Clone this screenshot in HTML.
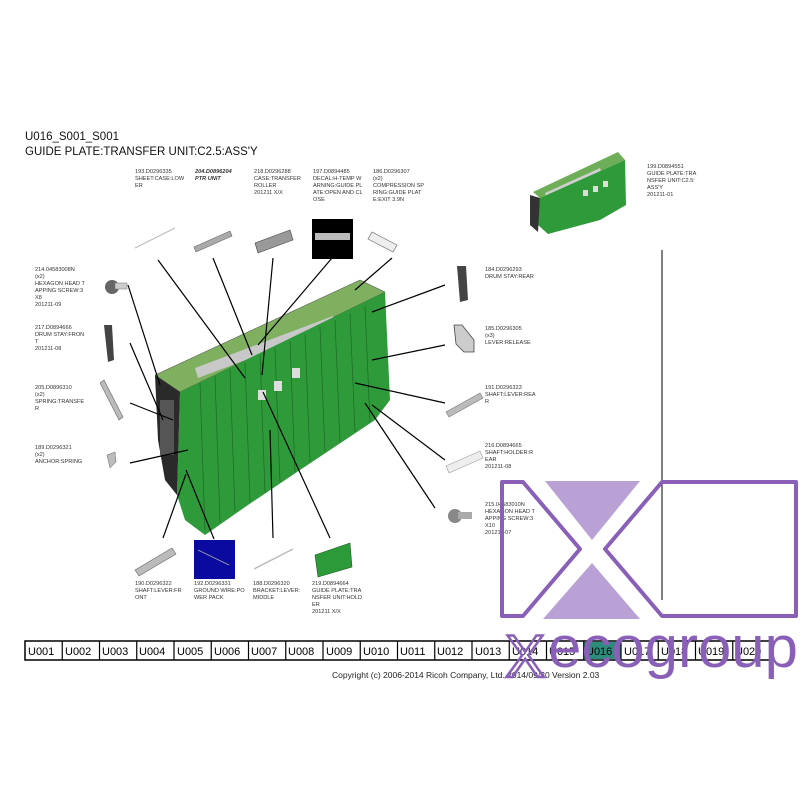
<!DOCTYPE html>
<html><head><meta charset="utf-8"><style>
html,body{margin:0;padding:0;background:#fff;}
svg{display:block;font-family:"Liberation Sans",sans-serif;}
.l{font-size:5.6px;fill:#333;}
</style></head><body>
<svg width="800" height="800" viewBox="0 0 800 800" xmlns="http://www.w3.org/2000/svg">
<rect width="800" height="800" fill="#fff"/>
<text x="25" y="140" font-size="11.5" fill="#111">U016_S001_S001</text>
<text x="25" y="155" font-size="11.5" fill="#111">GUIDE PLATE:TRANSFER UNIT:C2.5:ASS'Y</text>

<g class="l">
<text x="135" y="173">193.D0296335</text><text x="135" y="180">SHEET:CASE:LOW</text><text x="135" y="187">ER</text>
<text x="195" y="173" font-weight="bold" font-style="italic">204.D0896204</text><text x="195" y="180" font-weight="bold" font-style="italic">PTR UNIT</text>
<text x="254" y="173">218.D0296288</text><text x="254" y="180">CASE:TRANSFER</text><text x="254" y="187">ROLLER</text><text x="254" y="194">201211 X/X</text>
<text x="313" y="173">197.D0894485</text><text x="313" y="180">DECAL:H-TEMP W</text><text x="313" y="187">ARNING:GUIDE PL</text><text x="313" y="194">ATE:OPEN AND CL</text><text x="313" y="201">OSE</text>
<text x="373" y="173">186.D0296307</text><text x="373" y="180">(x2)</text><text x="373" y="187">COMPRESSION SP</text><text x="373" y="194">RING:GUIDE PLAT</text><text x="373" y="201">E:EXIT 3.9N</text>
<text x="647" y="168">199.D0894551</text><text x="647" y="175">GUIDE PLATE:TRA</text><text x="647" y="182">NSFER UNIT:C2.5:</text><text x="647" y="189">ASS'Y</text><text x="647" y="196">201211-01</text>
<text x="35" y="271">214.04583008N</text><text x="35" y="278">(x2)</text><text x="35" y="285">HEXAGON HEAD T</text><text x="35" y="292">APPING SCREW:3</text><text x="35" y="299">X8</text><text x="35" y="306">201211-09</text>
<text x="35" y="329">217.D0894666</text><text x="35" y="336">DRUM STAY:FRON</text><text x="35" y="343">T</text><text x="35" y="350">201211-08</text>
<text x="35" y="389">205.D0896310</text><text x="35" y="396">(x2)</text><text x="35" y="403">SPRING:TRANSFE</text><text x="35" y="410">R</text>
<text x="35" y="449">189.D0296321</text><text x="35" y="456">(x2)</text><text x="35" y="463">ANCHOR:SPRING</text>
<text x="485" y="271">184.D0296293</text><text x="485" y="278">DRUM STAY:REAR</text>
<text x="485" y="330">185.D0296305</text><text x="485" y="337">(x3)</text><text x="485" y="344">LEVER:RELEASE</text>
<text x="485" y="389">191.D0296323</text><text x="485" y="396">SHAFT:LEVER:REA</text><text x="485" y="403">R</text>
<text x="485" y="447">216.D0894665</text><text x="485" y="454">SHAFT:HOLDER:R</text><text x="485" y="461">EAR</text><text x="485" y="468">201211-08</text>
<text x="485" y="506">215.04583010N</text><text x="485" y="513">HEXAGON HEAD T</text><text x="485" y="520">APPING SCREW:3</text><text x="485" y="527">X10</text><text x="485" y="534">201211-07</text>
<text x="135" y="585">190.D0296322</text><text x="135" y="592">SHAFT:LEVER:FR</text><text x="135" y="599">ONT</text>
<text x="194" y="585">192.D0296331</text><text x="194" y="592">GROUND WIRE:PO</text><text x="194" y="599">WER PACK</text>
<text x="253" y="585">188.D0296320</text><text x="253" y="592">BRACKET:LEVER:</text><text x="253" y="599">MIDDLE</text>
<text x="312" y="585">219.D0894664</text><text x="312" y="592">GUIDE PLATE:TRA</text><text x="312" y="599">NSFER UNIT:HOLD</text><text x="312" y="606">ER</text><text x="312" y="613">201211 X/X</text>
</g>

<line x1="135" y1="248" x2="175" y2="228" stroke="#bbb" stroke-width="1"/>
<path d="M194 247 L230 231 L232 236 L196 252Z" fill="#aaa" stroke="#666" stroke-width="0.6"/>
<path d="M255 243 L290 230 L293 240 L258 253Z" fill="#999" stroke="#444" stroke-width="0.6"/>
<rect x="312" y="219" width="41" height="40" fill="#000"/>
<rect x="315" y="233" width="35" height="7" fill="#bbb"/>
<path d="M372 232 L397 245 L393 252 L368 239Z" fill="#eee" stroke="#888" stroke-width="0.8"/>
<circle cx="112" cy="287" r="7" fill="#666"/><rect x="115" y="283" width="12" height="6" fill="#ccc" stroke="#777" stroke-width="0.5"/>
<path d="M104 325 L112 325 L114 360 L108 362 Z" fill="#444"/>
<path d="M100 383 L104 380 L123 417 L119 420Z" fill="#bbb" stroke="#666" stroke-width="0.6"/>
<path d="M107 455 L115 452 L116 462 L110 468Z" fill="#bbb" stroke="#666" stroke-width="0.5"/>
<path d="M457 266 L466 266 L468 300 L460 302Z" fill="#444"/>
<path d="M454 325 L462 325 L474 340 L474 352 L464 352 L456 344Z" fill="#ccc" stroke="#444" stroke-width="0.8"/>
<path d="M446 412 L480 393 L483 398 L449 417Z" fill="#bbb" stroke="#777" stroke-width="0.6"/>
<path d="M446 466 L480 451 L483 458 L449 473Z" fill="#eee" stroke="#999" stroke-width="0.6"/>
<circle cx="455" cy="516" r="7" fill="#888"/><rect x="458" y="512" width="14" height="7" fill="#aaa"/>
<path d="M135 570 L172 548 L176 554 L139 576Z" fill="#bbb" stroke="#666" stroke-width="0.6"/>
<rect x="194" y="540" width="41" height="39" fill="#0a0aa0"/>
<line x1="198" y1="550" x2="229" y2="565" stroke="#aaa" stroke-width="0.8"/>
<line x1="254" y1="569" x2="293" y2="549" stroke="#bbb" stroke-width="1.5"/>
<path d="M315 555 L350 543 L352 567 L318 577Z" fill="#2d9a3a" stroke="#185c20" stroke-width="0.6"/>

<path d="M155 375 L360 280 L385 292 L180 392Z" fill="#7fb060" stroke="#444" stroke-width="0.5"/>
<path d="M195 368 L333 316 L336 326 L198 378Z" fill="#c8c8c8"/>
<path d="M180 392 L385 292 L390 400 L375 420 L300 470 L248 505 L205 535 L185 520 L177 495Z" fill="#2f9a3a"/>
<g stroke="#1c6a26" stroke-width="0.7">
<line x1="200" y1="383" x2="205" y2="530"/><line x1="215" y1="376" x2="220" y2="522"/><line x1="230" y1="369" x2="235" y2="512"/><line x1="245" y1="362" x2="250" y2="502"/><line x1="260" y1="355" x2="265" y2="492"/><line x1="275" y1="348" x2="280" y2="482"/><line x1="290" y1="341" x2="295" y2="472"/><line x1="305" y1="334" x2="310" y2="462"/><line x1="320" y1="327" x2="325" y2="452"/><line x1="335" y1="320" x2="340" y2="442"/><line x1="350" y1="313" x2="355" y2="432"/><line x1="365" y1="306" x2="370" y2="422"/>
</g>
<path d="M155 375 L180 392 L177 495 L165 480 L158 440Z" fill="#2a2a2a"/>
<rect x="160" y="400" width="14" height="55" fill="#555"/>
<rect x="258" y="390" width="8" height="10" fill="#ddd"/><rect x="274" y="381" width="8" height="10" fill="#ddd"/><rect x="292" y="368" width="8" height="10" fill="#ddd"/>

<path d="M533 192 L618 152 L625 160 L540 198Z" fill="#6fae58"/>
<path d="M545 193 L600 168 L602 174 L547 199Z" fill="#cfcfcf"/>
<path d="M540 198 L625 160 L626 205 L600 220 L548 234 L538 225Z" fill="#2f9a3a"/>
<path d="M530 195 L540 198 L538 232 L530 225Z" fill="#333"/>
<rect x="583" y="190" width="5" height="6" fill="#ddd"/><rect x="593" y="186" width="5" height="6" fill="#ddd"/><rect x="603" y="181" width="5" height="6" fill="#ddd"/>

<g stroke="#000" stroke-width="1.2">
<line x1="158" y1="260" x2="245" y2="378"/><line x1="213" y1="258" x2="252" y2="355"/>
<line x1="273" y1="258" x2="262" y2="375"/><line x1="332" y1="258" x2="258" y2="345"/>
<line x1="392" y1="258" x2="355" y2="290"/>
<line x1="128" y1="285" x2="160" y2="385"/><line x1="130" y1="343" x2="163" y2="420"/>
<line x1="130" y1="403" x2="173" y2="420"/><line x1="130" y1="463" x2="188" y2="450"/>
<line x1="163" y1="538" x2="186" y2="474"/><line x1="214" y1="539" x2="186" y2="470"/>
<line x1="273" y1="538" x2="270" y2="430"/><line x1="330" y1="538" x2="263" y2="392"/>
<line x1="445" y1="285" x2="372" y2="312"/><line x1="445" y1="345" x2="372" y2="360"/>
<line x1="445" y1="403" x2="355" y2="383"/><line x1="445" y1="460" x2="372" y2="405"/>
<line x1="435" y1="508" x2="365" y2="403"/>
</g>
<line x1="662" y1="250" x2="662" y2="600" stroke="#000" stroke-width="1"/>

<polygon points="545,481 640,481 592,540" fill="#b9a1d6"/>
<polygon points="592,563 640,619 543,619" fill="#b9a1d6"/>
<path d="M502 482 L523 482 L580 549 L523 616 L502 616 Z" fill="none" stroke="#8a5fb8" stroke-width="4" stroke-linejoin="round"/>
<path d="M662 482 L796 482 L796 616 L662 616 L605 549 Z" fill="none" stroke="#8a5fb8" stroke-width="4" stroke-linejoin="round"/>

<g font-size="11" fill="#000">
<rect x="25" y="641" width="745" height="19" fill="#fff" stroke="#000" stroke-width="1.5"/>
<rect x="584" y="642" width="37" height="17" fill="#2d8c7c"/>
<g stroke="#000" stroke-width="1.2">
<line x1="62.25" y1="641" x2="62.25" y2="660"/><line x1="99.5" y1="641" x2="99.5" y2="660"/><line x1="136.75" y1="641" x2="136.75" y2="660"/><line x1="174" y1="641" x2="174" y2="660"/><line x1="211.25" y1="641" x2="211.25" y2="660"/><line x1="248.5" y1="641" x2="248.5" y2="660"/><line x1="285.75" y1="641" x2="285.75" y2="660"/><line x1="323" y1="641" x2="323" y2="660"/><line x1="360.25" y1="641" x2="360.25" y2="660"/><line x1="397.5" y1="641" x2="397.5" y2="660"/><line x1="434.75" y1="641" x2="434.75" y2="660"/><line x1="472" y1="641" x2="472" y2="660"/><line x1="509.25" y1="641" x2="509.25" y2="660"/><line x1="546.5" y1="641" x2="546.5" y2="660"/><line x1="583.75" y1="641" x2="583.75" y2="660"/><line x1="621" y1="641" x2="621" y2="660"/><line x1="658.25" y1="641" x2="658.25" y2="660"/><line x1="695.5" y1="641" x2="695.5" y2="660"/><line x1="732.75" y1="641" x2="732.75" y2="660"/>
</g>
<text x="28" y="655">U001</text><text x="65" y="655">U002</text><text x="102" y="655">U003</text><text x="139" y="655">U004</text><text x="177" y="655">U005</text><text x="214" y="655">U006</text><text x="251" y="655">U007</text><text x="288" y="655">U008</text><text x="326" y="655">U009</text><text x="363" y="655">U010</text><text x="400" y="655">U011</text><text x="437" y="655">U012</text><text x="475" y="655">U013</text><text x="512" y="655">U014</text><text x="549" y="655">U015</text><text x="586" y="655">U016</text><text x="624" y="655">U017</text><text x="661" y="655">U018</text><text x="698" y="655">U019</text><text x="735" y="655">U020</text>
</g>
<text x="332" y="678" font-size="8.5" fill="#222">Copyright (c) 2006-2014 Ricoh Company, Ltd.    2014/09/30 Version 2.03</text>

<text x="505" y="677" font-size="60" fill="none" stroke="#8a5fb8" stroke-width="2.5">X</text>
<text x="548" y="667" font-size="58" fill="#8a5fb8" textLength="250" lengthAdjust="spacingAndGlyphs">ecogroup</text>
</svg>
</body></html>
